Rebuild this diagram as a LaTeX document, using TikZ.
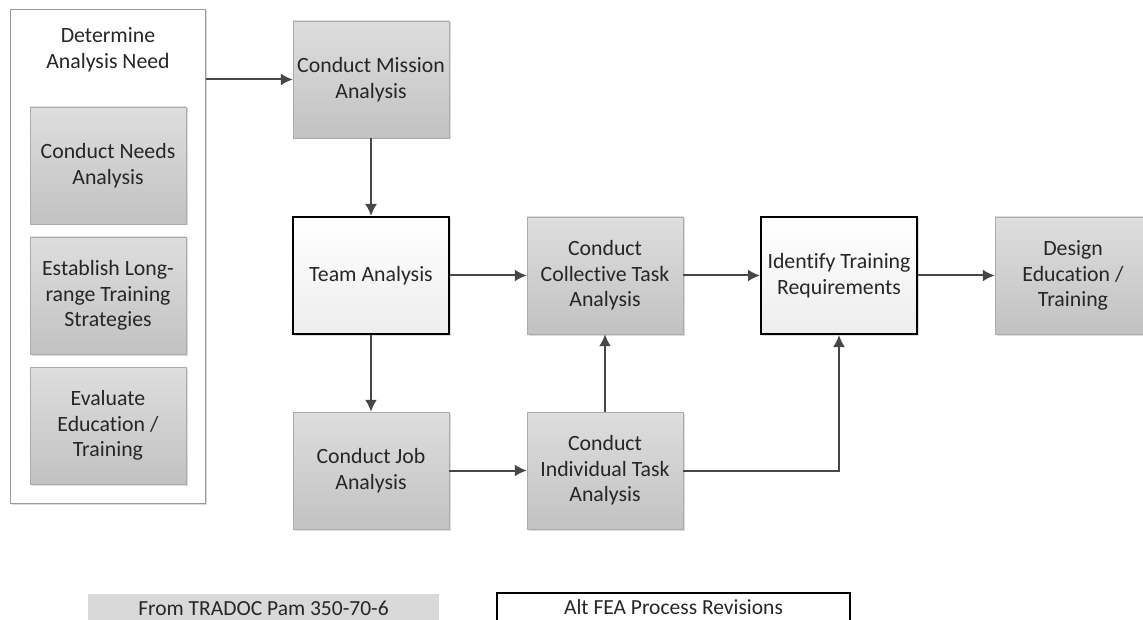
\documentclass[tikz,border=0pt]{standalone}
\usepackage{fontspec}
\setmainfont[Ligatures={NoCommon}]{Carlito}
\usepackage{tikz}
\usetikzlibrary{shadows,arrows,arrows.meta,positioning,calc}
\tikzstyle{activity}=[draw=black!33, top color=black!13, bottom color=black!24,
text=black!85, align=center, minimum width=156pt, minimum height=117pt,
inner sep=0pt, font=\fontsize{21.8}{25.5}\selectfont,
drop shadow={shadow xshift=1.5pt, shadow yshift=-1.5pt, opacity=0.3, fill=black!45}]
\tikzstyle{revision} = [activity, draw=black, line width=2pt, top color=white, bottom color=black!7]
\tikzstyle{frame} = [draw=black!40, fill=white, minimum width=195pt, minimum height=494pt,
drop shadow={shadow xshift=1.5pt, shadow yshift=-1.5pt, opacity=0.3, fill=black!45}]
\tikzstyle{key} = [text=black!85, font=\fontsize{21.5}{25}\selectfont, minimum height=28pt, inner sep=0pt]
\tikzstyle{line} = [draw, line width=2pt, color=black!72, -{Latex[length=12pt,width=12pt]}]
\newcommand{\activity}[2]{node (p#1)[activity]{#2}}
\newcommand{\revision}[2]{node (p#1)[revision]{#2}}

\begin{document}
\begin{tikzpicture}[x=1pt,y=-1pt]
		\useasboundingbox[fill=white] (0,0) rectangle (1143,620);
		
		% Draw diagram elements
		\node (p0)[frame] at (108,256) {};
		\node (p8)[text=black!85, align=center, font=\fontsize{21.8}{25.5}\selectfont] at (108,50) {Determine\\Analysis Need};
		\path (108,165.5) \activity{9}{Conduct Needs\\Analysis};
		\path (p9)+(0,130) \activity{10}{Establish Long-\\range Training\\Strategies};
		\path (p10)+(0,130) \activity{11}{Evaluate\\Education /\\Training};
		
		\path (371,79.5) \activity{1}{Conduct Mission\\Analysis};
		\path (p1)+(0,196) \revision{2}{Team Analysis};
		\path (p2)+(0,195) \activity{3}{Conduct Job\\Analysis};
		\path (p2)+(234,0) \activity{4}{Conduct\\Collective Task\\Analysis};
		\path (p3)+(234,0) \activity{5}{Conduct\\Individual Task\\Analysis};
		\path (p4)+(234,0) \revision{6}{Identify Training\\Requirements};
		\path (p6)+(234,0) \activity{7}{Design\\Education /\\Training};
		
		% legend
		\node (p12)[key, fill=black!15, minimum width=351pt] at (263.5,608) {From TRADOC Pam 350-70-6};
		\node (p13)[key, draw=black, line width=2pt, fill=white, minimum width=353pt] at (673.5,607) {Alt FEA Process Revisions};
		
		% Draw arrows between elements
		\path [line] (p0.east |- p1) -- (p1);
		\path [line] (p1) -- (p2);
		\path [line] (p2) -- (p3);
		\path [line] (p2) -- (p4);
		\path [line] (p4) -- (p6);
		\path [line] (p6) -- (p7);
		\path [line] (p3) -- (p5);
		\path [line] (p5) -- (p4);
		\path [line] (p5.east) -| (p6);
		\end{tikzpicture}
\end{document}
